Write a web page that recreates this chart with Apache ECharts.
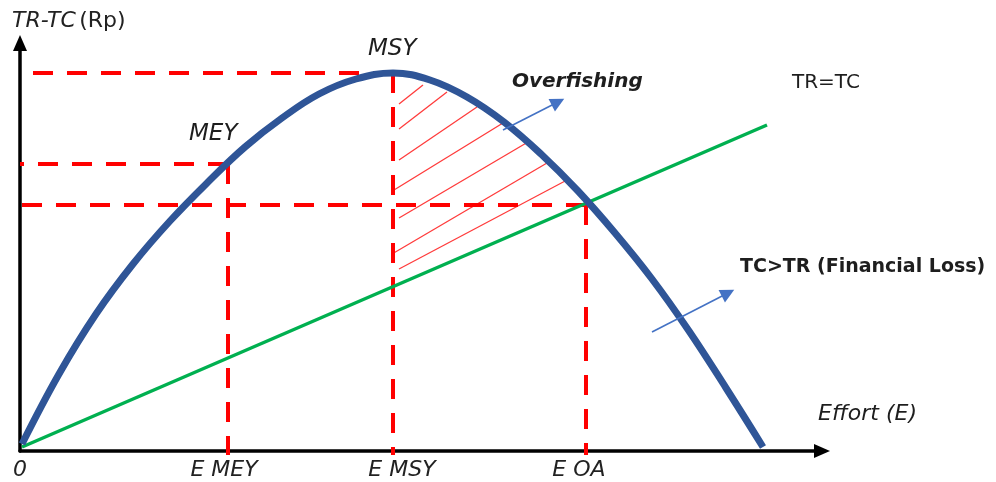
<!DOCTYPE html>
<html>
<head>
<meta charset="utf-8">
<script src="https://cdn.jsdelivr.net/npm/echarts@6/dist/echarts.min.js"></script>
<style>
  html, body { margin: 0; padding: 0; background: #fff; }
  #chart { width: 996px; height: 482px; }
</style>
</head>
<body>
<div id="chart"></div>
<script>
// units: effort (x) and TR-TC (y)
var effort = [2, 39, 76, 113, 150, 188, 225, 262, 299, 336, 373, 410, 447, 484, 521, 558, 595, 632, 669, 706, 743];
var revenue = [7, 77, 137, 187, 230, 269, 304, 333, 357, 372, 378, 371, 354, 329, 297, 260, 218, 172, 120, 63, 4];
var costX = [2, 747];
var costY = [4, 326];

// reference points: MEY, MSY, OA
var refNames = ['MEY', 'MSY', 'OA'];
var refX = [208, 373, 566];
var refY = [287, 378, 246];

var tickValues = [0, 204, 382, 559];
var tickLabels = ['0', 'E MEY', 'E MSY', 'E OA'];

// hatch strokes in the overfishing zone [x1, y1, x2, y2]
var hatch = [
  [379, 347, 403, 366],
  [379, 322, 427, 359],
  [379, 291, 457, 344],
  [374, 261, 483, 328],
  [379, 233, 508, 309],
  [372, 197, 527, 288],
  [379, 182, 547, 271]
];

// small blue arrows
var arrows = [
  [483, 321, 538, 349],
  [632, 119, 708, 158]
];

var chart = echarts.init(document.getElementById('chart'));

var guides = [];
for (var i = 0; i < refX.length; i++) {
  guides.push({ coords: [[refX[i], refY[i]], [0, refY[i]]] });
  guides.push({ coords: [[refX[i], refY[i]], [refX[i], -4]] });
}

var font = '"DejaVu Sans", sans-serif';

function note(x, y, text, style) {
  return {
    type: 'text', x: x, y: y,
    style: { text: text, font: style + ' ' + font, fill: '#1e1e1e', align: 'left', verticalAlign: 'middle' }
  };
}

chart.setOption({
  animation: false,
  grid: { left: 20, right: 174, top: 43, bottom: 31, outerBoundsMode: 'none' },
  xAxis: {
    type: 'value',
    min: 0,
    max: 802,
    splitLine: { show: false },
    axisTick: { show: false },
    axisLine: {
      onZero: false,
      symbol: ['none', 'triangle'],
      symbolSize: [14, 16],
      lineStyle: { color: '#000', width: 3.5 }
    },
    axisLabel: {
      customValues: tickValues,
      margin: 8,
      fontFamily: font,
      fontSize: 22,
      fontStyle: 'italic',
      color: '#222',
      formatter: function (v) {
        var k = tickValues.indexOf(v);
        return k >= 0 ? tickLabels[k] : '';
      }
    }
  },
  yAxis: {
    type: 'value',
    min: 0,
    max: 408,
    splitLine: { show: false },
    axisTick: { show: false },
    axisLabel: { show: false },
    axisLine: {
      onZero: false,
      symbol: ['none', 'triangle'],
      symbolSize: [14, 16],
      lineStyle: { color: '#000', width: 3.5 }
    }
  },
  graphic: [
    { type: 'text', x: 12, y: 21, style: { rich: {
        i: { fontFamily: font, fontSize: 22, fontStyle: 'italic', fill: '#222' },
        n: { fontFamily: font, fontSize: 22, fill: '#222' }
      }, text: '{i|TR-TC} {n|(Rp)}', verticalAlign: 'middle' } },
    note(368, 49, 'MSY', 'italic 23px'),
    note(189, 134, 'MEY', 'italic 23px'),
    note(512, 82, 'Overfishing', 'italic bold 20px'),
    note(792, 83, 'TR=TC', '20px'),
    note(740, 267, 'TC>TR (Financial Loss)', 'bold 19px'),
    note(818, 414, 'Effort (E)', 'italic 22px')
  ],
  series: [
    {
      type: 'lines',
      coordinateSystem: 'cartesian2d',
      clip: false,
      z: 1,
      lineStyle: { color: '#ff3b3b', width: 1.3, opacity: 1 },
      data: hatch.map(function (h) { return { coords: [[h[0], h[1]], [h[2], h[3]]] }; })
    },
    {
      type: 'lines',
      coordinateSystem: 'cartesian2d',
      clip: false,
      z: 2,
      lineStyle: { color: '#ff0000', width: 4, type: [20, 14], opacity: 1 },
      data: guides
    },
    {
      type: 'line',
      z: 3,
      symbol: 'none',
      lineStyle: { color: '#00b050', width: 3.5 },
      data: costX.map(function (x, k) { return [x, costY[k]]; })
    },
    {
      type: 'line',
      z: 4,
      smooth: 0.4,
      symbol: 'none',
      lineStyle: { color: '#2f5597', width: 7 },
      data: effort.map(function (x, k) { return [x, revenue[k]]; })
    },
    {
      type: 'lines',
      coordinateSystem: 'cartesian2d',
      clip: false,
      z: 5,
      symbol: ['none', 'triangle'],
      symbolSize: 14,
      lineStyle: { color: '#4472c4', width: 1.6, opacity: 1 },
      data: arrows.map(function (a) { return { coords: [[a[0], a[1]], [a[2], a[3]]] }; })
    }
  ]
});
</script>
</body>
</html>
